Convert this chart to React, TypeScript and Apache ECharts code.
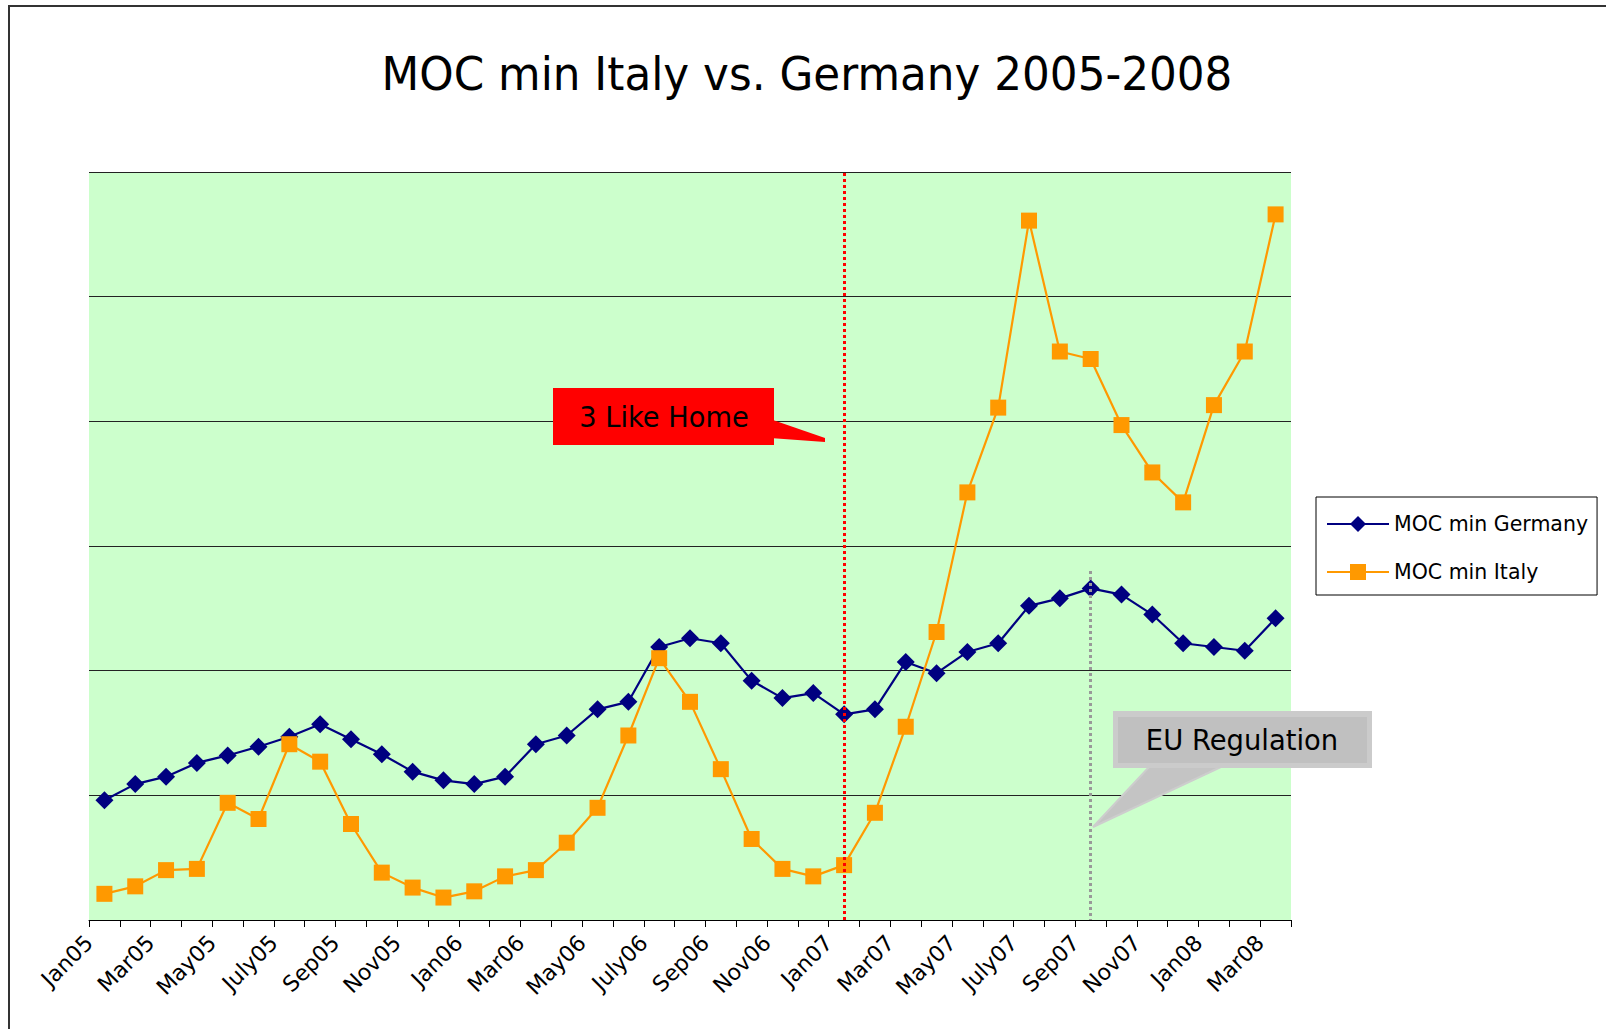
import React, { useEffect, useRef } from "react";
import * as echarts from "echarts";

const FONT = "'DejaVu Sans', 'Noto Sans', sans-serif";

const months = [
  "Jan05", "Feb05", "Mar05", "Apr05", "May05", "June05", "July05", "Aug05", "Sep05", "Oct05", "Nov05", "Dec05",
  "Jan06", "Feb06", "Mar06", "Apr06", "May06", "June06", "July06", "Aug06", "Sep06", "Oct06", "Nov06", "Dec06",
  "Jan07", "Feb07", "Mar07", "Apr07", "May07", "June07", "July07", "Aug07", "Sep07", "Oct07", "Nov07", "Dec07",
  "Jan08", "Feb08", "Mar08",
];

const germany = [
  9.6, 10.9, 11.5, 12.6, 13.2, 13.9, 14.7, 15.7, 14.5, 13.3, 11.9, 11.2,
  10.9, 11.5, 14.1, 14.8, 16.9, 17.5, 21.9, 22.6, 22.2, 19.2, 17.8, 18.2,
  16.5, 16.9, 20.7, 19.8, 21.5, 22.2, 25.2, 25.8, 26.6, 26.1, 24.5, 22.2,
  21.9, 21.6, 24.2,
];

const italy = [
  2.1, 2.7, 4.0, 4.1, 9.4, 8.1, 14.1, 12.7, 7.7, 3.8, 2.6, 1.8,
  2.3, 3.5, 4.0, 6.2, 9.0, 14.8, 21.0, 17.5, 12.1, 6.5, 4.1, 3.5,
  4.4, 8.6, 15.5, 23.1, 34.3, 41.1, 56.1, 45.6, 45.0, 39.7, 35.9, 33.5,
  41.3, 45.6, 56.6,
];

const yMin = 0;
const yMax = 60;
const yStep = 10;

const seriesNames = ["MOC min Germany", "MOC min Italy"];
const titleText = "MOC min Italy vs. Germany 2005-2008";
const event1 = { label: "3 Like Home", month: "Jan07" };
const event2 = { label: "EU Regulation", month: "Sep07", from: 28 };

export default function App() {
  const ref = useRef<HTMLDivElement>(null);

  useEffect(() => {
    document.body.style.margin = "0";
    const chart = echarts.init(ref.current!, null, { renderer: "svg" });
    const boundaryLabels = [...months, ""];

    chart.setOption({
      animation: false,
      backgroundColor: "#ffffff",
      textStyle: { fontFamily: FONT },
      grid: { left: 89, top: 172, right: 315, bottom: 109, containLabel: false },
      xAxis: [
        {
          type: "category",
          data: months,
          boundaryGap: true,
          axisLine: { show: true, lineStyle: { color: "#000", width: 1 } },
          axisTick: { show: true, interval: 0, length: 7, lineStyle: { color: "#000" } },
          axisLabel: { show: false },
          splitLine: { show: false },
        },
        {
          type: "category",
          data: boundaryLabels,
          boundaryGap: false,
          position: "bottom",
          axisLine: { show: false },
          axisTick: { show: false },
          splitLine: { show: false },
          axisLabel: {
            show: true,
            interval: 1,
            rotate: 45,
            margin: 19,
            fontSize: 22,
            color: "#000",
            fontFamily: FONT,
          },
        },
      ],
      yAxis: {
        type: "value",
        min: yMin,
        max: yMax,
        interval: yStep,
        axisLine: { show: false },
        axisTick: { show: false },
        axisLabel: { show: false },
        splitLine: { show: true, lineStyle: { color: "#222", width: 1 } },
        splitArea: { show: true, areaStyle: { color: ["#CCFFCC", "#CCFFCC"] } },
      },
      legend: {
        orient: "vertical",
        left: 1316,
        top: 497,
        padding: [12, 9, 8, 10],
        itemWidth: 62,
        itemHeight: 20,
        itemGap: 18,
        borderColor: "#000",
        borderWidth: 1,
        backgroundColor: "#fff",
        textStyle: { fontSize: 20.5, color: "#000", fontFamily: FONT, lineHeight: 30 },
        data: seriesNames,
      },
      series: [
        {
          name: seriesNames[0],
          type: "line",
          data: germany,
          xAxisIndex: 0,
          color: "#000080",
          symbol: "diamond",
          symbolSize: 18,
          lineStyle: { color: "#000080", width: 2.2 },
          itemStyle: { color: "#000080" },
          markLine: {
            silent: true,
            symbol: "none",
            label: { show: false },
            lineStyle: { color: "#FF0000", type: [3, 3], width: 3 },
            data: [{ xAxis: event1.month }],
          },
        },
        {
          name: seriesNames[1],
          type: "line",
          data: italy,
          xAxisIndex: 0,
          color: "#FF9900",
          symbol: "rect",
          symbolSize: 16,
          lineStyle: { color: "#FF9900", width: 2.2 },
          itemStyle: { color: "#FF9900" },
          markLine: {
            silent: true,
            symbol: "none",
            label: { show: false },
            lineStyle: { color: "#999999", type: [3, 3], width: 3 },
            data: [[{ coord: [event2.month, event2.from] }, { coord: [event2.month, yMin] }]],
          },
        },
      ],
      graphic: [
        {
          type: "rect",
          silent: true,
          shape: { x: 9, y: 6, width: 1700, height: 1100 },
          style: { fill: "none", stroke: "#333", lineWidth: 2 },
          z: 100,
        },
        {
          type: "text",
          silent: true,
          x: 807,
          y: 74,
          scaleX: 0.93,
          style: {
            x: 0,
            y: 0,
            text: titleText,
            fontSize: 47,
            fontFamily: FONT,
            fill: "#000",
            align: "center",
            verticalAlign: "middle",
          },
        },
        {
          type: "polygon",
          silent: true,
          shape: { points: [[770, 419], [825, 438], [825, 442], [770, 438]] },
          style: { fill: "#FF0000" },
          z: 50,
        },
        {
          type: "rect",
          silent: true,
          shape: { x: 553, y: 388, width: 221, height: 57 },
          style: { fill: "#FF0000" },
          z: 50,
        },
        {
          type: "text",
          silent: true,
          x: 664,
          y: 417,
          scaleX: 0.94,
          style: {
            x: 0,
            y: 0,
            text: event1.label,
            fontSize: 29,
            fontFamily: FONT,
            fill: "#000",
            align: "center",
            verticalAlign: "middle",
          },
          z: 51,
        },
        {
          type: "polygon",
          silent: true,
          shape: { points: [[1150, 766], [1223, 766], [1093, 827]] },
          style: { fill: "#C4C4C4", stroke: "#CDCDCD", lineWidth: 2 },
          z: 50,
        },
        {
          type: "rect",
          silent: true,
          shape: { x: 1113, y: 711, width: 259, height: 57 },
          style: { fill: "#CBCBCB" },
          z: 50,
        },
        {
          type: "rect",
          silent: true,
          shape: { x: 1118, y: 717, width: 249, height: 46 },
          style: { fill: "#C0C0C0" },
          z: 50,
        },
        {
          type: "text",
          silent: true,
          x: 1242,
          y: 740,
          scaleX: 0.945,
          style: {
            x: 0,
            y: 0,
            text: event2.label,
            fontSize: 29,
            fontFamily: FONT,
            fill: "#000",
            align: "center",
            verticalAlign: "middle",
          },
          z: 51,
        },
      ],
    });

    return () => chart.dispose();
  }, []);

  return <div ref={ref} style={{ width: 1606, height: 1029 }} />;
}
